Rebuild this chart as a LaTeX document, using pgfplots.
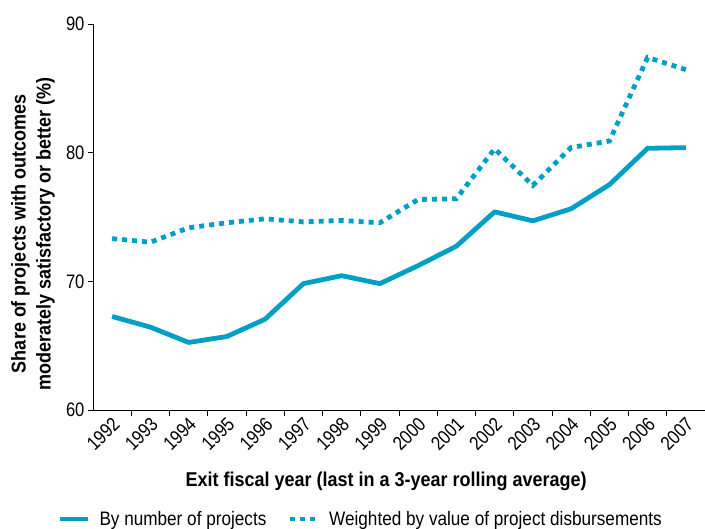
\documentclass[border=0pt]{standalone}
\usepackage{pgfplots}
\pgfplotsset{compat=1.18}
\usepackage{fontspec}
\setmainfont{Liberation Sans}[FakeStretch=0.85]
\newfontfamily\legfont{Liberation Sans}[FakeStretch=0.88]
\newfontfamily\labfont{Liberation Sans}[FakeStretch=0.90]
\definecolor{wbblue}{RGB}{0,160,198}
\begin{document}
\begin{tikzpicture}
\path[use as bounding box] (-93pt,-119pt) rectangle (612pt,410pt);
\begin{axis}[
  at={(0pt,0pt)}, anchor=south west,
  width=612pt, height=386pt, scale only axis,
  xmin=-0.5, xmax=15.5, ymin=60, ymax=90,
  axis lines*=left,
  axis line style={black, line width=0.6pt},
  xtick={0,...,15},
  xticklabels={1992,1993,1994,1995,1996,1997,1998,1999,2000,2001,2002,2003,2004,2005,2006,2007},
  major x tick style={draw=none},
  minor xtick={0.5,1.5,...,14.5},
  minor tick length=6pt,
  minor x tick style={black, line width=0.6pt},
  ytick={60,70,80,90},
  tick align=outside,
  major tick length=5pt,
  y tick style={black, line width=0.6pt},
  /pgf/number format/assume math mode=true,
  tick label style={font=\fontsize{19.5}{21}\selectfont},
  x tick label style={rotate=45, anchor=east, inner sep=1pt, yshift=-7pt},
  xlabel={Exit fiscal year (last in a 3-year rolling average)},
  ylabel={Share of projects with outcomes\\moderately satisfactory or better (\%)},
  label style={font=\labfont\bfseries\fontsize{20}{25}\selectfont},
  ylabel style={align=center, at={(-0.062,0.456)}, anchor=south, rotate=0, inner sep=0pt},
  xlabel style={at={(0.479,-0.197)}, anchor=base, inner sep=0pt},
  legend columns=2,
  legend cell align=left,
  legend style={draw=none, fill=none, at={(-0.058,-0.2824)}, anchor=west, inner sep=0pt,
    font=\legfont\fontsize{19.5}{22}\selectfont,
    nodes={inner sep=0pt},
    /tikz/every odd column/.append style={column sep=9pt},
    /tikz/every even column/.append style={column sep=21pt}},
  legend image code/.code={\draw[#1] (0pt,0pt) -- (28pt,0pt);},
]
\addplot[wbblue, line width=4.8pt, line join=round] coordinates {
(0,67.27) (1,66.44) (2,65.25) (3,65.71) (4,67.06) (5,69.82) (6,70.44) (7,69.82)
(8,71.22) (9,72.73) (10,75.40) (11,74.70) (12,75.64) (13,77.51) (14,80.34) (15,80.39)};
\addlegendentry{By number of projects}
\addplot[wbblue, line width=4.8pt, dash pattern=on 5pt off 5pt] coordinates {
(0,73.32) (1,73.04) (2,74.16) (3,74.55) (4,74.86) (5,74.62) (6,74.73) (7,74.55)
(8,76.36) (9,76.42) (10,80.30) (11,77.45) (12,80.40) (13,80.90) (14,87.40) (15,86.45)};
\addlegendentry{Weighted by value of project disbursements}
\end{axis}
\end{tikzpicture}
\end{document}
